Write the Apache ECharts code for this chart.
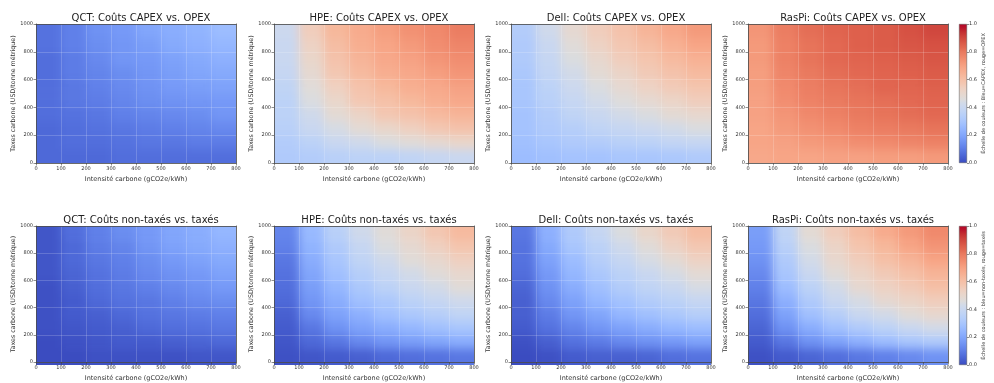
<!DOCTYPE html>
<html><head><meta charset="utf-8">
<script src="https://cdn.jsdelivr.net/npm/echarts@6/dist/echarts.min.js"></script>
<style>
html,body{margin:0;padding:0;background:#fff}
#c{width:994px;height:383px;position:relative}
#c canvas[data-zr-dom-id="zr_0"]{filter:blur(5px)}
</style>
</head><body><div id="c"></div>
<script>
// cell centres (x: carbon intensity gCO2e/kWh, y: carbon tax USD/t)
const xCenters = [50,150,250,350,450,550,650,750];
const yCenters = [50,150,250,350,450,550,650,750,850,950];
const xTicks = [0,100,200,300,400,500,600,700,800];
const yTicks = [0,200,400,600,800,1000];
const cbTicks = [0,0.2,0.4,0.6,0.8,1.0];

const titlesTop = ['QCT: Coûts CAPEX vs. OPEX','HPE: Coûts CAPEX vs. OPEX','Dell: Coûts CAPEX vs. OPEX','RasPi: Coûts CAPEX vs. OPEX'];
const titlesBottom = ['QCT: Coûts non-taxés vs. taxés','HPE: Coûts non-taxés vs. taxés','Dell: Coûts non-taxés vs. taxés','RasPi: Coûts non-taxés vs. taxés'];

// rows: y = 50 .. 950 ; columns: x = 50 .. 750
const qctCapexOpex = [
[.06,.06,.06,.07,.07,.07,.07,.07],
[.06,.07,.07,.08,.09,.09,.10,.10],
[.06,.07,.08,.09,.10,.11,.12,.13],
[.07,.08,.09,.11,.12,.13,.14,.16],
[.07,.09,.10,.12,.14,.15,.16,.17],
[.07,.09,.11,.13,.15,.17,.18,.19],
[.07,.10,.12,.14,.16,.18,.20,.21],
[.07,.10,.13,.16,.17,.19,.21,.23],
[.08,.11,.14,.16,.18,.21,.23,.25],
[.08,.11,.15,.17,.20,.22,.24,.27]];
const hpeCapexOpex = [
[.32,.33,.35,.36,.36,.37,.39,.40],
[.33,.36,.40,.42,.45,.47,.49,.51],
[.35,.40,.44,.48,.51,.54,.57,.59],
[.36,.42,.48,.52,.57,.59,.62,.64],
[.36,.45,.51,.57,.60,.63,.66,.68],
[.37,.47,.54,.59,.63,.66,.68,.70],
[.39,.49,.57,.62,.66,.68,.71,.73],
[.40,.51,.59,.64,.68,.70,.73,.75],
[.40,.53,.61,.66,.69,.72,.75,.77],
[.41,.55,.63,.67,.71,.74,.76,.79]];
const dellCapexOpex = [
[.27,.28,.29,.29,.30,.30,.31,.32],
[.28,.30,.32,.33,.35,.36,.38,.39],
[.29,.32,.34,.37,.39,.41,.43,.45],
[.29,.33,.37,.40,.43,.45,.48,.50],
[.30,.35,.39,.43,.46,.49,.52,.55],
[.30,.36,.41,.45,.49,.53,.56,.58],
[.31,.38,.43,.48,.52,.56,.59,.62],
[.32,.39,.45,.50,.55,.58,.62,.65],
[.32,.40,.47,.53,.57,.61,.65,.69],
[.33,.42,.49,.55,.59,.64,.68,.72]];
const raspiCapexOpex = [
[.68,.69,.69,.70,.70,.71,.71,.72],
[.69,.70,.72,.73,.75,.76,.77,.78],
[.69,.72,.74,.76,.78,.79,.80,.81],
[.70,.73,.76,.78,.80,.81,.82,.83],
[.70,.75,.78,.80,.81,.82,.83,.84],
[.71,.76,.79,.81,.82,.84,.84,.85],
[.71,.77,.80,.82,.83,.84,.85,.86],
[.72,.78,.81,.83,.84,.85,.86,.87],
[.72,.78,.81,.83,.85,.86,.87,.88],
[.73,.79,.82,.84,.85,.86,.88,.90]];
const qctTaxed = [
[.00,.00,.01,.01,.01,.01,.02,.02],
[.00,.01,.02,.03,.03,.04,.05,.06],
[.01,.02,.03,.04,.06,.07,.08,.09],
[.01,.03,.04,.06,.08,.09,.10,.11],
[.01,.03,.06,.08,.09,.11,.13,.14],
[.01,.04,.07,.09,.11,.13,.15,.17],
[.02,.05,.08,.10,.13,.15,.17,.19],
[.02,.06,.09,.11,.14,.17,.19,.21],
[.02,.06,.10,.12,.16,.19,.21,.23],
[.02,.07,.11,.14,.17,.20,.22,.25]];
const hpeTaxed = [
[.01,.02,.03,.04,.06,.07,.08,.09],
[.02,.06,.09,.13,.16,.18,.20,.22],
[.03,.09,.15,.19,.22,.25,.28,.30],
[.04,.13,.19,.23,.28,.31,.34,.37],
[.06,.16,.22,.28,.31,.36,.39,.42],
[.07,.18,.25,.31,.36,.40,.43,.47],
[.08,.20,.28,.34,.39,.43,.47,.50],
[.09,.22,.30,.37,.42,.47,.50,.54],
[.11,.24,.32,.39,.45,.49,.54,.58],
[.12,.26,.35,.42,.47,.52,.57,.62]];
const dellTaxed = [
[.00,.01,.03,.04,.04,.05,.07,.08],
[.01,.04,.08,.10,.13,.15,.17,.19],
[.03,.08,.12,.16,.19,.22,.25,.27],
[.04,.10,.16,.20,.25,.28,.31,.34],
[.04,.13,.19,.25,.29,.33,.36,.39],
[.05,.15,.22,.28,.33,.37,.40,.44],
[.07,.17,.25,.31,.36,.40,.44,.48],
[.08,.19,.27,.34,.39,.44,.48,.53],
[.08,.21,.30,.36,.42,.47,.53,.57],
[.09,.23,.32,.39,.45,.51,.56,.61]];
const raspiTaxed = [
[.01,.03,.05,.07,.09,.11,.13,.15],
[.03,.09,.15,.19,.23,.27,.30,.32],
[.05,.15,.22,.28,.32,.36,.40,.43],
[.07,.19,.28,.34,.40,.43,.47,.50],
[.09,.23,.32,.40,.44,.49,.52,.55],
[.11,.27,.36,.43,.49,.53,.56,.60],
[.13,.30,.40,.47,.52,.56,.60,.64],
[.15,.32,.43,.50,.55,.60,.64,.69],
[.17,.35,.45,.52,.58,.63,.69,.73],
[.18,.37,.48,.55,.61,.67,.72,.76]];

const panels = [qctCapexOpex,hpeCapexOpex,dellCapexOpex,raspiCapexOpex,qctTaxed,hpeTaxed,dellTaxed,raspiTaxed];

// matplotlib coolwarm
const coolwarm = ['#3b4cc0','#445acc','#4d68d7','#5775e1','#6282ea','#6c8ff1','#779af7','#82a6fb','#8db0fe','#98b9ff','#a3c2fe','#aec9fc','#b7cff9','#c0d4f5','#c9d7f0','#d1dae9','#dddcdc','#e4d9d2','#ead5c9','#efcfbf','#f3c7b1','#f5c0a7','#f6b89c','#f7af91','#f7a688','#f59c7d','#f29072','#ee8468','#e97a5f','#e26952','#dc5d4a','#d44e41','#cc403a','#c32e31','#b9152b','#b40426'];

const lefts = [36,274,511,748];
const tops = [24,226];
const W = 200, H = 139;
const FONT = 'DejaVu Sans';
const EXT = 16; // edge bleed (px) so the soft rendering keeps full colour at the frame

// clip the soft heat layer to the plot frames
(function(){
  let d='';
  for (const t of tops) for (const l of lefts) d += `M${l} ${t}h${W}v${H}h${-W}Z`;
  const st=document.createElement('style');
  st.textContent = `#c canvas[data-zr-dom-id="zr_0"]{clip-path:path('${d}');}`;
  document.head.appendChild(st);
})();

const grids=[], xAxes=[], yAxes=[], series=[], titles=[];
const xMin=xTicks[0], xMax=xTicks[xTicks.length-1], yMin=yTicks[0], yMax=yTicks[yTicks.length-1];
function renderCell(params, api){
  const x = api.value(0), y = api.value(1);
  const p0 = api.coord([x-50, y-50]);
  const p1 = api.coord([x+50, y+50]);
  let x0=p0[0]-0.3, x1=p1[0]+0.3, yTop=p1[1]-0.3, yBot=p0[1]+0.3;
  if (x-50<=xMin) x0-=EXT;
  if (x+50>=xMax) x1+=EXT;
  if (y-50<=yMin) yBot+=EXT;
  if (y+50>=yMax) yTop-=EXT;
  return {type:'rect', shape:{x:x0, y:yTop, width:x1-x0, height:yBot-yTop},
          style:{fill:api.visual('color')}};
}
const fmtInt = v => String(Math.round(v));
for (let r=0;r<2;r++){
  for (let c=0;c<4;c++){
    const k = r*4+c;
    grids.push({left:lefts[c], top:tops[r], width:W, height:H});
    titles.push({text:(r===0?titlesTop:titlesBottom)[c], left:lefts[c]+W/2, top:tops[r]-16, textAlign:'center', zlevel:1,
      textStyle:{fontFamily:FONT, fontSize:10, fontWeight:'normal', color:'#222'}});
    const lab = {fontFamily:FONT, fontSize:5, color:'#333', formatter:fmtInt};
    xAxes.push({gridIndex:k, type:'value', min:xMin, max:xMax, interval:100, zlevel:1, z:5,
      axisLine:{show:true, onZero:false, lineStyle:{color:'#444', width:0.8}},
      axisTick:{show:true, length:2.5, lineStyle:{color:'#444', width:0.6}},
      axisLabel:Object.assign({margin:3}, lab),
      splitLine:{show:true, lineStyle:{color:'rgba(255,255,255,0.3)', width:0.6}},
      name:'Intensité carbone (gCO2e/kWh)', nameLocation:'middle', nameGap:13,
      nameTextStyle:{fontFamily:FONT, fontSize:6.5, color:'#333'}});
    xAxes.push({gridIndex:k, type:'value', position:'top', min:xMin, max:xMax, zlevel:1, z:5,
      axisLine:{show:true, onZero:false, lineStyle:{color:'#444', width:0.8}},
      axisTick:{show:false}, axisLabel:{show:false}, splitLine:{show:false}});
    yAxes.push({gridIndex:k, type:'value', min:yMin, max:yMax, interval:200, zlevel:1, z:5,
      axisLine:{show:true, onZero:false, lineStyle:{color:'#444', width:0.8}},
      axisTick:{show:true, length:2.5, lineStyle:{color:'#444', width:0.6}},
      axisLabel:Object.assign({margin:3}, lab),
      splitLine:{show:true, lineStyle:{color:'rgba(255,255,255,0.3)', width:0.6}},
      name:'Taxes carbone (USD/tonne métrique)', nameLocation:'middle', nameGap:18,
      nameTextStyle:{fontFamily:FONT, fontSize:6.3, color:'#333'}});
    yAxes.push({gridIndex:k, type:'value', position:'right', min:yMin, max:yMax, zlevel:1, z:5,
      axisLine:{show:true, onZero:false, lineStyle:{color:'#444', width:0.8}},
      axisTick:{show:false}, axisLabel:{show:false}, splitLine:{show:false}});
    const data=[];
    const arr = panels[k];
    for (let j=0;j<yCenters.length;j++) for (let i=0;i<xCenters.length;i++) data.push([xCenters[i], yCenters[j], arr[j][i]]);
    series.push({type:'custom', xAxisIndex:2*k, yAxisIndex:2*k, renderItem:renderCell, data:data, zlevel:0,
      encode:{x:0,y:1}, clip:false, silent:true, animation:false});
  }
}
// colorbars
const cbNames = ['Échelle de couleurs : Bleu=CAPEX, rouge=OPEX','Échelle de couleurs : bleu=non-taxés, rouge=taxés'];
const stops = coolwarm.map((c,i)=>({offset:i/(coolwarm.length-1), color:c}));
for (let r=0;r<2;r++){
  const g = grids.length;
  grids.push({left:959, top:tops[r], width:8, height:H});
  xAxes.push({gridIndex:g, type:'category', data:['cb'], show:false, zlevel:1});
  yAxes.push({gridIndex:g, type:'value', position:'right', min:cbTicks[0], max:cbTicks[cbTicks.length-1], interval:0.2, zlevel:1,
    axisLine:{show:false}, axisTick:{show:true, length:2, lineStyle:{color:'#444', width:0.6}},
    axisLabel:{fontFamily:FONT, fontSize:5, color:'#333', margin:2, formatter:v=>v.toFixed(1)},
    splitLine:{show:false},
    name:cbNames[r], nameLocation:'middle', nameRotate:90, nameGap:14,
    nameTextStyle:{fontFamily:FONT, fontSize:5, color:'#333'}});
  series.push({type:'bar', xAxisIndex:xAxes.length-1, yAxisIndex:yAxes.length-1, data:[cbTicks[cbTicks.length-1]],
    barWidth:'100%', silent:true, animation:false, zlevel:1,
    itemStyle:{color:new echarts.graphic.LinearGradient(0,1,0,0,stops), borderColor:'#555', borderWidth:0.5}});
}

const chart = echarts.init(document.getElementById('c'), null, {renderer:'canvas'});
chart.setOption({
  animation:false,
  title:titles,
  grid:grids, xAxis:xAxes, yAxis:yAxes,
  visualMap:{type:'continuous', show:false, min:0, max:1, dimension:2, seriesIndex:[0,1,2,3,4,5,6,7], inRange:{color:coolwarm}},
  series:series
});
</script></body></html>
